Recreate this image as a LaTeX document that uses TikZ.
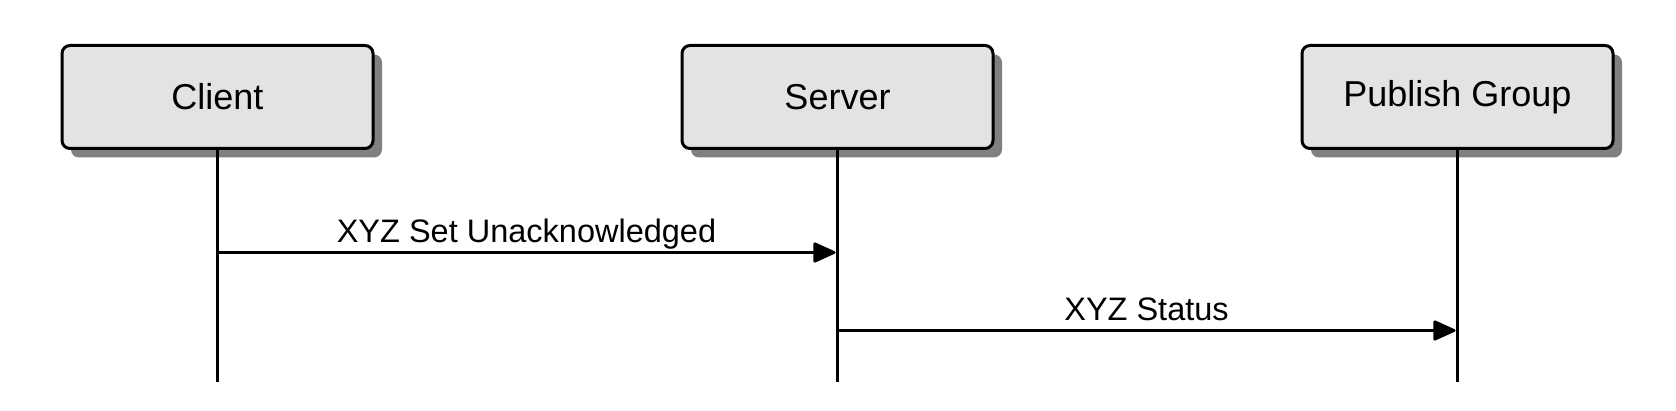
\documentclass[tikz,border=0pt]{standalone}
\usepackage{fontspec}
\setmainfont{Liberation Sans}
\usetikzlibrary{arrows.meta,shadows}
\begin{document}
\begin{tikzpicture}[x=0.5pt,y=-0.5pt,
  actor/.style={draw=black, line width=1.5pt, rounded corners=4pt, fill=boxfill,
    minimum width=155.5pt, minimum height=51.5pt, inner sep=0pt,
    font=\fontsize{18}{21}\selectfont,
    drop shadow={shadow xshift=4.5pt, shadow yshift=-4.5pt, fill=shadowgray, opacity=1}},
  lifeline/.style={draw=black, line width=1.4pt},
  msg/.style={draw=black, line width=1.3pt, -{Triangle[length=12pt,width=10.5pt,round]}},
  lbl/.style={font=\fontsize{16.25}{19}\selectfont, inner sep=0pt, anchor=base, yshift=4.8pt}
]
\definecolor{boxfill}{HTML}{E3E3E3}
\definecolor{shadowgray}{HTML}{808080}
\useasboundingbox (0,0) rectangle (1676,411);

\node[actor] (client) at (217.5,97) {Client};
\node[actor] (server) at (837.5,97) {Server};
\node[actor] (pub) at (1457.5,97) {Publish Group};

\coordinate (clientend) at (217.5,381.5);
\coordinate (serverend) at (837.5,381.5);
\coordinate (pubend) at (1457.5,381.5);

\draw[lifeline] (client.south) -- (clientend);
\draw[lifeline] (server.south) -- (serverend);
\draw[lifeline] (pub.south) -- (pubend);

\coordinate (m1s) at (217.5,252.5);
\coordinate (m1e) at (835.5,252.5);
\coordinate (m2s) at (837.5,330.5);
\coordinate (m2e) at (1455.5,330.5);

\draw[msg] (m1s) -- node[lbl] {XYZ Set Unacknowledged} (m1e);
\draw[msg] (m2s) -- node[lbl] {XYZ Status} (m2e);
\end{tikzpicture}
\end{document}
